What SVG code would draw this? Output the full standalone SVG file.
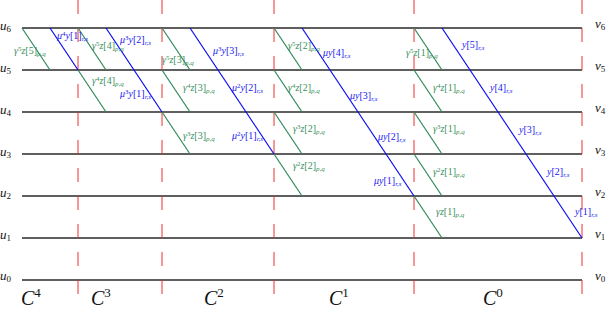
<svg xmlns="http://www.w3.org/2000/svg" width="607" height="309" viewBox="0 0 607 309">
<style>
.h{stroke:#2a2a2a;stroke-width:1.3;fill:none}
.r{stroke:#ee3030;stroke-width:1;stroke-dasharray:14 14;fill:none}
.g{stroke:#2f8a58;stroke-width:1.2;fill:none}
.b{stroke:#0a0af5;stroke-width:1.2;fill:none}
text{font-family:"Liberation Serif","DejaVu Serif",serif}
.lg{fill:#3a9060;font-size:10px}
.lb{fill:#2020f0;font-size:10px}
.i{font-style:italic}
.s{font-size:7px}
.ax{fill:#111;font-size:13px;font-style:italic}
.axs{font-size:9px;font-style:normal}
.c{fill:#111;font-size:20px;font-style:italic}
.cs{font-size:13px;font-style:normal}
</style>
<g id="grid">
<line class="h" x1="22" y1="28" x2="582" y2="28"/>
<line class="h" x1="22" y1="70" x2="582" y2="70"/>
<line class="h" x1="22" y1="112" x2="582" y2="112"/>
<line class="h" x1="22" y1="154" x2="582" y2="154"/>
<line class="h" x1="22" y1="196" x2="582" y2="196"/>
<line class="h" x1="22" y1="238" x2="582" y2="238"/>
<line class="h" x1="22" y1="280" x2="582" y2="280"/>
</g>
<g id="dividers">
<line class="r" x1="78" y1="0" x2="78" y2="294"/>
<line class="r" x1="162" y1="0" x2="162" y2="294"/>
<line class="r" x1="274" y1="0" x2="274" y2="294"/>
<line class="r" x1="414" y1="0" x2="414" y2="294"/>
<line class="r" x1="582" y1="0" x2="582" y2="294"/>
</g>
<g id="connectors">
<line class="g" x1="22" y1="28" x2="50" y2="70"/>
<line class="g" x1="78" y1="28" x2="106" y2="70"/>
<line class="g" x1="78" y1="70" x2="106" y2="112"/>
<line class="g" x1="162" y1="28" x2="190" y2="70"/>
<line class="g" x1="162" y1="70" x2="190" y2="112"/>
<line class="g" x1="162" y1="112" x2="190" y2="154"/>
<line class="g" x1="274" y1="28" x2="302" y2="70"/>
<line class="g" x1="274" y1="70" x2="302" y2="112"/>
<line class="g" x1="274" y1="112" x2="302" y2="154"/>
<line class="g" x1="274" y1="154" x2="302" y2="196"/>
<line class="g" x1="414" y1="28" x2="442" y2="70"/>
<line class="g" x1="414" y1="70" x2="442" y2="112"/>
<line class="g" x1="414" y1="112" x2="442" y2="154"/>
<line class="g" x1="414" y1="154" x2="442" y2="196"/>
<line class="g" x1="414" y1="196" x2="442" y2="238"/>
<line class="b" x1="50" y1="28" x2="78" y2="70"/>
<line class="b" x1="106" y1="28" x2="162" y2="112"/>
<line class="b" x1="190" y1="28" x2="274" y2="154"/>
<line class="b" x1="302" y1="28" x2="414" y2="196"/>
<line class="b" x1="442" y1="28" x2="582" y2="238"/>
</g>
<g id="axis-u">
<text class="ax" x="0" y="30">u<tspan class="axs" dy="2">6</tspan></text>
<text class="ax" x="0" y="72">u<tspan class="axs" dy="2">5</tspan></text>
<text class="ax" x="0" y="114">u<tspan class="axs" dy="2">4</tspan></text>
<text class="ax" x="0" y="156">u<tspan class="axs" dy="2">3</tspan></text>
<text class="ax" x="0" y="197">u<tspan class="axs" dy="2">2</tspan></text>
<text class="ax" x="0" y="239">u<tspan class="axs" dy="2">1</tspan></text>
<text class="ax" x="0" y="280">u<tspan class="axs" dy="2">0</tspan></text>
</g>
<g id="axis-v">
<text class="ax" x="595" y="28">v<tspan class="axs" dy="2">6</tspan></text>
<text class="ax" x="595" y="70">v<tspan class="axs" dy="2">5</tspan></text>
<text class="ax" x="595" y="112">v<tspan class="axs" dy="2">4</tspan></text>
<text class="ax" x="595" y="154">v<tspan class="axs" dy="2">3</tspan></text>
<text class="ax" x="595" y="196">v<tspan class="axs" dy="2">2</tspan></text>
<text class="ax" x="595" y="238">v<tspan class="axs" dy="2">1</tspan></text>
<text class="ax" x="595" y="280">v<tspan class="axs" dy="2">0</tspan></text>
</g>
<g id="C4">
<text class="c" x="21" y="305">C<tspan class="cs" dy="-8">4</tspan></text>
<text class="lg" x="14" y="54"><tspan class="i">γ</tspan><tspan class="s" dy="-3.5">5</tspan><tspan class="i" dy="3.5">z</tspan>[5]<tspan class="s i" dy="2">p,q</tspan></text>
<text class="lb" x="57" y="39"><tspan class="i">μ</tspan><tspan class="s" dy="-3.5">4</tspan><tspan class="i" dy="3.5">y</tspan>[1]<tspan class="s i" dy="2">r,s</tspan></text>
</g>
<g id="C3">
<text class="c" x="91" y="305">C<tspan class="cs" dy="-8">3</tspan></text>
<text class="lg" x="92" y="49"><tspan class="i">γ</tspan><tspan class="s" dy="-3.5">5</tspan><tspan class="i" dy="3.5">z</tspan>[4]<tspan class="s i" dy="2">p,q</tspan></text>
<text class="lb" x="120" y="43"><tspan class="i">μ</tspan><tspan class="s" dy="-3.5">3</tspan><tspan class="i" dy="3.5">y</tspan>[2]<tspan class="s i" dy="2">r,s</tspan></text>
<text class="lg" x="92" y="84"><tspan class="i">γ</tspan><tspan class="s" dy="-3.5">4</tspan><tspan class="i" dy="3.5">z</tspan>[4]<tspan class="s i" dy="2">p,q</tspan></text>
<text class="lb" x="120" y="97"><tspan class="i">μ</tspan><tspan class="s" dy="-3.5">3</tspan><tspan class="i" dy="3.5">y</tspan>[1]<tspan class="s i" dy="2">r,s</tspan></text>
</g>
<g id="C2">
<text class="c" x="204" y="305">C<tspan class="cs" dy="-8">2</tspan></text>
<text class="lg" x="162" y="63"><tspan class="i">γ</tspan><tspan class="s" dy="-3.5">5</tspan><tspan class="i" dy="3.5">z</tspan>[3]<tspan class="s i" dy="2">p,q</tspan></text>
<text class="lb" x="213" y="54"><tspan class="i">μ</tspan><tspan class="s" dy="-3.5">3</tspan><tspan class="i" dy="3.5">y</tspan>[3]<tspan class="s i" dy="2">r,s</tspan></text>
<text class="lg" x="183" y="91"><tspan class="i">γ</tspan><tspan class="s" dy="-3.5">4</tspan><tspan class="i" dy="3.5">z</tspan>[3]<tspan class="s i" dy="2">p,q</tspan></text>
<text class="lb" x="232" y="91"><tspan class="i">μ</tspan><tspan class="s" dy="-3.5">2</tspan><tspan class="i" dy="3.5">y</tspan>[2]<tspan class="s i" dy="2">r,s</tspan></text>
<text class="lg" x="183" y="139"><tspan class="i">γ</tspan><tspan class="s" dy="-3.5">3</tspan><tspan class="i" dy="3.5">z</tspan>[3]<tspan class="s i" dy="2">p,q</tspan></text>
<text class="lb" x="232" y="139"><tspan class="i">μ</tspan><tspan class="s" dy="-3.5">2</tspan><tspan class="i" dy="3.5">y</tspan>[1]<tspan class="s i" dy="2">r,s</tspan></text>
</g>
<g id="C1">
<text class="c" x="329" y="305">C<tspan class="cs" dy="-8">1</tspan></text>
<text class="lg" x="288" y="49"><tspan class="i">γ</tspan><tspan class="s" dy="-3.5">5</tspan><tspan class="i" dy="3.5">z</tspan>[2]<tspan class="s i" dy="2">p,q</tspan></text>
<text class="lb" x="323" y="56"><tspan class="i">μy</tspan>[4]<tspan class="s i" dy="2">r,s</tspan></text>
<text class="lg" x="288" y="91"><tspan class="i">γ</tspan><tspan class="s" dy="-3.5">4</tspan><tspan class="i" dy="3.5">z</tspan>[2]<tspan class="s i" dy="2">p,q</tspan></text>
<text class="lb" x="350" y="99"><tspan class="i">μy</tspan>[3]<tspan class="s i" dy="2">r,s</tspan></text>
<text class="lg" x="293" y="132"><tspan class="i">γ</tspan><tspan class="s" dy="-3.5">3</tspan><tspan class="i" dy="3.5">z</tspan>[2]<tspan class="s i" dy="2">p,q</tspan></text>
<text class="lb" x="378" y="140"><tspan class="i">μy</tspan>[2]<tspan class="s i" dy="2">r,s</tspan></text>
<text class="lg" x="293" y="169"><tspan class="i">γ</tspan><tspan class="s" dy="-3.5">2</tspan><tspan class="i" dy="3.5">z</tspan>[2]<tspan class="s i" dy="2">p,q</tspan></text>
<text class="lb" x="374" y="184"><tspan class="i">μy</tspan>[1]<tspan class="s i" dy="2">r,s</tspan></text>
</g>
<g id="C0">
<text class="c" x="483" y="305">C<tspan class="cs" dy="-8">0</tspan></text>
<text class="lg" x="406" y="56"><tspan class="i">γ</tspan><tspan class="s" dy="-3.5">5</tspan><tspan class="i" dy="3.5">z</tspan>[1]<tspan class="s i" dy="2">p,q</tspan></text>
<text class="lb" x="462" y="48"><tspan class="i">y</tspan>[5]<tspan class="s i" dy="2">r,s</tspan></text>
<text class="lg" x="433" y="91"><tspan class="i">γ</tspan><tspan class="s" dy="-3.5">4</tspan><tspan class="i" dy="3.5">z</tspan>[1]<tspan class="s i" dy="2">p,q</tspan></text>
<text class="lb" x="490" y="91"><tspan class="i">y</tspan>[4]<tspan class="s i" dy="2">r,s</tspan></text>
<text class="lg" x="433" y="132"><tspan class="i">γ</tspan><tspan class="s" dy="-3.5">3</tspan><tspan class="i" dy="3.5">z</tspan>[1]<tspan class="s i" dy="2">p,q</tspan></text>
<text class="lb" x="519" y="133"><tspan class="i">y</tspan>[3]<tspan class="s i" dy="2">r,s</tspan></text>
<text class="lg" x="433" y="175"><tspan class="i">γ</tspan><tspan class="s" dy="-3.5">2</tspan><tspan class="i" dy="3.5">z</tspan>[1]<tspan class="s i" dy="2">p,q</tspan></text>
<text class="lb" x="547" y="175"><tspan class="i">y</tspan>[2]<tspan class="s i" dy="2">r,s</tspan></text>
<text class="lg" x="436" y="215"><tspan class="i">γz</tspan>[1]<tspan class="s i" dy="2">p,q</tspan></text>
<text class="lb" x="575" y="215"><tspan class="i">y</tspan>[1]<tspan class="s i" dy="2">r,s</tspan></text>
</g>
</svg>
